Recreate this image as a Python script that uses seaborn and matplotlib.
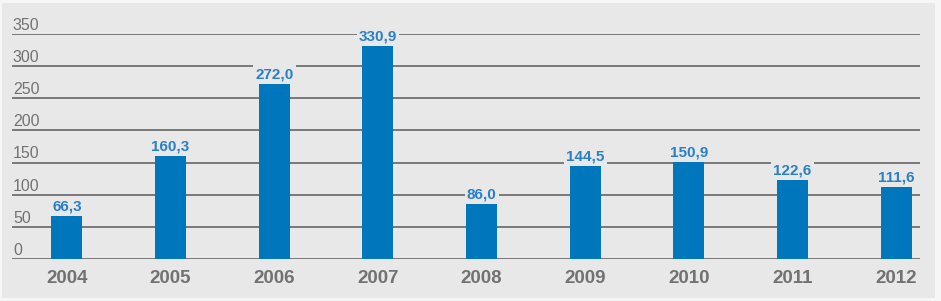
import matplotlib
matplotlib.use('Agg')
import matplotlib.pyplot as plt
from matplotlib.patches import Rectangle
import seaborn as sns
import pandas as pd

# dados
anos = ['2004', '2005', '2006', '2007', '2008', '2009', '2010', '2011', '2012']
valores = [66.3, 160.3, 272.0, 330.9, 86.0, 144.5, 150.9, 122.6, 111.6]
rotulos = ['66,3', '160,3', '272,0', '330,9', '86,0', '144,5', '150,9', '122,6', '111,6']
marcas_y = [0, 50, 100, 150, 200, 250, 300, 350]

df = pd.DataFrame({'ano': anos, 'valor': valores})

fundo = '#e8e8e8'
azul = '#0077bd'
cinza_txt = '#727272'

sns.set_style('white')
plt.rcParams['font.family'] = ['Liberation Sans', 'DejaVu Sans']

fig = plt.figure(figsize=(9.41, 3.01), dpi=100, facecolor='#f6f6f6')
# painel cinza com margem clara
fig.add_artist(Rectangle((2 / 941, 3 / 301), 933 / 941, 295 / 301, transform=fig.transFigure,
                         facecolor=fundo, edgecolor='none', zorder=-10))

ax = fig.add_axes([12 / 941, 1 - 259 / 301, (920 - 12) / 941, (259 - 34) / 301])
ax.set_facecolor(fundo)

sns.barplot(data=df, x='ano', y='valor', color=azul, width=0.30, saturation=1,
            linewidth=0, edgecolor='none', ax=ax, zorder=3)

ax.set_xlim(-0.53, 8.23)
ax.set_ylim(0, 350)

# linhas de grade horizontais + rótulos do eixo y
for v in marcas_y:
    ax.axhline(v, color='#5a5a5a', lw=1.1, zorder=1)
    ax.annotate(str(v), xy=(0.001, v), xycoords=ax.get_yaxis_transform(), xytext=(0, 3),
                textcoords='offset points', ha='left', va='baseline',
                fontsize=11.5, color=cinza_txt, annotation_clip=False)

# rótulos dos valores
for i, (v, r) in enumerate(zip(valores, rotulos)):
    ax.annotate(r, xy=(i, v), xytext=(0, 4), textcoords='offset points', ha='center', va='baseline',
                fontsize=11, fontweight='bold', color='#2a80c8', zorder=4,
                bbox=dict(facecolor=fundo, edgecolor='none', pad=1.5))

ax.set_yticks([])
ax.set_xlabel('')
ax.set_ylabel('')
ax.tick_params(axis='x', length=0, pad=8)
for t in ax.get_xticklabels():
    t.set_fontsize(13.5)
    t.set_fontweight('bold')
    t.set_color(cinza_txt)
sns.despine(ax=ax, left=True, bottom=True, top=True, right=True)

fig.savefig('out.png', dpi=100, facecolor=fig.get_facecolor())
